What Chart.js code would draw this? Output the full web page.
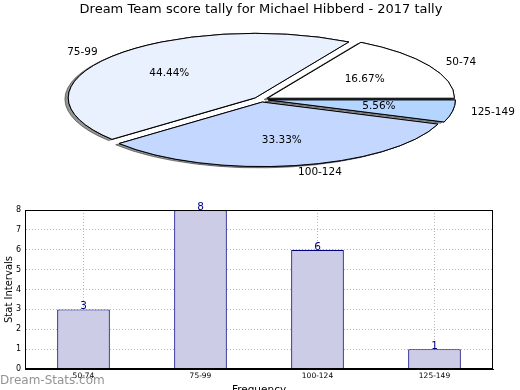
<!DOCTYPE html>
<html><head><meta charset="utf-8">
<script src="https://cdn.jsdelivr.net/npm/chart.js@4"></script>
<style>
html,body{margin:0;padding:0;background:#fff;}
#wrap{position:relative;width:520px;height:390px;overflow:hidden;background:#fff;}
#pie{position:absolute;left:0;top:0;}
#bar{position:absolute;left:0;top:200px;}
</style></head><body>
<div id="wrap">
<canvas id="pie" width="520" height="200"></canvas>
<canvas id="bar" width="520" height="190"></canvas>
</div>
<script>
// ---- data ----
const chartTitle = 'Dream Team score tally for Michael Hibberd - 2017 tally';
const categories = ['50-74', '75-99', '100-124', '125-149'];
const counts = [3, 8, 6, 1];
const sliceColors = ['#ffffff', '#eaf1fe', '#c4d8ff', '#b4d5ff'];
const yTicks = [0, 1, 2, 3, 4, 5, 6, 7, 8];
const xAxisTitle = 'Frequency';
const yAxisTitle = 'Stat Intervals';
const watermark = 'Dream-Stats.com';

// ---- style ----
const FONT = "'DejaVu Sans', sans-serif";
Chart.defaults.font.family = FONT;
const K = 0.345;   // vertical squash of the pie
const R = 187;     // pie radius (unsquashed)
const E = 7.5;     // explode distance

const total = counts.reduce((a, b) => a + b, 0);

const pieDraw = {
  id: 'pieDraw',
  beforeDatasetDraw(chart, args) {
    const ctx = chart.ctx;
    const els = args.meta.data;
    const base = ctx.getTransform();
    const nativeStroke = CanvasRenderingContext2D.prototype.stroke;
    ctx.stroke = function () {
      this.save();
      this.setTransform(base);
      nativeStroke.apply(this, arguments);
      this.restore();
    };
    [true, false].forEach(shadow => {
      els.forEach(el => {
        const mid = (el.startAngle + el.endAngle) / 2;
        ctx.save();
        if (shadow) {
          ctx.shadowColor = 'rgba(0,0,0,0.42)';
          ctx.shadowOffsetX = -3.4;
          ctx.shadowOffsetY = 1.3;
          ctx.shadowBlur = 0;
        }
        ctx.translate(el.x, el.y);
        ctx.scale(1, K);
        ctx.translate(Math.cos(mid) * E - el.x, Math.sin(mid) * E - el.y);
        el.draw(ctx);
        ctx.restore();
      });
    });
    delete ctx.stroke;
    return false;
  },
  afterDraw(chart) {
    const ctx = chart.ctx;
    const meta = chart.getDatasetMeta(0);
    ctx.save();
    ctx.font = '10.5px ' + FONT;
    ctx.fillStyle = '#000';
    ctx.textBaseline = 'middle';
    meta.data.forEach((el, i) => {
      const mid = (el.startAngle + el.endAngle) / 2;
      const ux = Math.cos(mid), uy = Math.sin(mid);
      const cx = el.x + E * ux, cy = el.y + K * E * uy;
      const v = chart.data.datasets[0].data[i];
      ctx.textAlign = ux > 0 ? 'left' : 'right';
      ctx.fillText(chart.data.labels[i], cx + 1.1 * R * ux, cy + K * 1.1 * R * uy);
      ctx.textAlign = 'center';
      ctx.fillText((v / total * 100).toFixed(2) + '%', cx + 0.6 * R * ux, cy + K * 0.6 * R * uy);
    });
    ctx.restore();
  }
};

new Chart(document.getElementById('pie'), {
  type: 'pie',
  data: {
    labels: categories.slice().reverse(),
    datasets: [{
      data: counts.slice().reverse(),
      backgroundColor: sliceColors.slice().reverse(),
      borderColor: '#000',
      borderWidth: 1,
      borderJoinStyle: 'miter',
      radius: R,
      offset: 0,
      hoverOffset: 0,
      clip: false
    }]
  },
  options: {
    responsive: false,
    animation: false,
    events: [],
    rotation: 90,
    layout: { padding: { left: 2, bottom: 18.6 } },
    plugins: {
      legend: { display: false },
      tooltip: { enabled: false },
      title: {
        display: true, text: chartTitle, color: '#000',
        font: { family: FONT, size: 13, weight: 'normal' },
        padding: { top: 2, bottom: 0 }
      }
    }
  },
  plugins: [pieDraw]
});

const barExtras = {
  id: 'barExtras',
  afterDatasetsDraw(chart) {
    const ctx = chart.ctx;
    const meta = chart.getDatasetMeta(0);
    ctx.save();
    ctx.font = '10.5px ' + FONT;
    ctx.fillStyle = '#000080';
    ctx.textAlign = 'center';
    ctx.textBaseline = 'alphabetic';
    meta.data.forEach((el, i) => {
      ctx.fillText(String(chart.data.datasets[0].data[i]), el.x, el.y);
    });
    ctx.restore();
  },
  afterDraw(chart) {
    const ctx = chart.ctx;
    const a = chart.chartArea;
    ctx.save();
    ctx.strokeStyle = '#000';
    ctx.lineWidth = 1;
    const l = Math.round(a.left) + 0.5, r = Math.round(a.right) - 0.5;
    const t = Math.round(a.top) + 0.5, b = Math.round(a.bottom) - 0.5;
    ctx.strokeRect(l, t, r - l, b - t);
    ctx.font = '12px ' + FONT;
    ctx.fillStyle = 'rgba(120,120,120,0.8)';
    ctx.textAlign = 'left';
    ctx.textBaseline = 'alphabetic';
    ctx.fillText(watermark, 0, 183.5);
    ctx.restore();
  }
};

new Chart(document.getElementById('bar'), {
  type: 'bar',
  data: {
    labels: categories,
    datasets: [{
      data: counts,
      backgroundColor: 'rgb(204,204,230)',
      borderColor: '#000080',
      borderWidth: 1.2,
      barPercentage: 0.45,
      categoryPercentage: 1
    }]
  },
  options: {
    responsive: false,
    animation: false,
    events: [],
    layout: { padding: { top: 10, right: 27, left: 0, bottom: 0 } },
    plugins: { legend: { display: false }, tooltip: { enabled: false } },
    scales: {
      x: {
        grid: { offset: false, color: '#b8b8b8', lineWidth: 1, drawTicks: false },
        border: { color: '#000', width: 1, dash: [1, 2] },
        ticks: { font: { size: 7.5 }, color: '#000', padding: 3, maxRotation: 0 },
        title: { display: true, text: xAxisTitle, color: '#000', font: { size: 10.5 }, padding: { top: 0, bottom: -7 } },
        afterFit(s) { s.height = 21; }
      },
      y: {
        min: 0, max: 8,
        afterBuildTicks(s) { s.ticks = yTicks.map(v => ({ value: v })); },
        grid: { color: '#b8b8b8', lineWidth: 1, drawTicks: false },
        border: { color: '#000', width: 1, dash: [1, 2] },
        ticks: { font: { size: 8 }, color: '#000', padding: 4 },
        title: { display: true, text: yAxisTitle, color: '#000', font: { size: 10 }, padding: { top: 3, bottom: 0 } },
        afterFit(s) { s.width = 25; }
      }
    }
  },
  plugins: [barExtras]
});
</script>
</body></html>
